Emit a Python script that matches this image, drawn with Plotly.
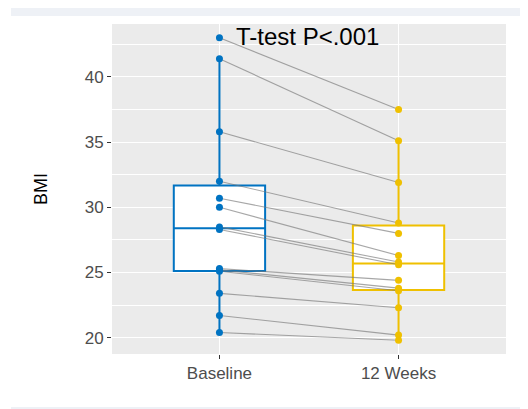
import numpy as np
import plotly.graph_objects as go

categories = ["Baseline", "12 Weeks"]
baseline = [43.0, 41.4, 35.8, 32.0, 30.7, 30.0, 28.5, 28.3, 25.3, 25.2, 25.1, 23.4, 21.7, 20.4]
week12 = [37.5, 35.1, 31.9, 28.8, 28.0, 26.3, 25.8, 25.6, 24.4, 23.8, 23.6, 22.3, 20.2, 19.8]
colors = ["#0073C2", "#EFC000"]
y_ticks = [20, 25, 30, 35, 40]
annotation_text = "T-test P<.001"

fig = go.Figure()

# paired lines
for b, w in zip(baseline, week12):
    fig.add_trace(go.Scatter(x=[0, 1], y=[b, w], mode="lines",
                             line=dict(color="rgba(120,120,120,0.65)", width=1.1),
                             showlegend=False, hoverinfo="skip"))

def box_stats(vals):
    v = np.array(vals)
    q1, med, q3 = np.percentile(v, [25, 50, 75])
    iqr = q3 - q1
    lo = v[v >= q1 - 1.5 * iqr].min()
    hi = v[v <= q3 + 1.5 * iqr].max()
    return q1, med, q3, lo, hi

for i, (vals, c) in enumerate(zip([baseline, week12], colors)):
    q1, med, q3, lo, hi = box_stats(vals)
    fig.add_trace(go.Box(x=[i], q1=[q1], median=[med], q3=[q3],
                         lowerfence=[lo], upperfence=[hi],
                         width=0.51, whiskerwidth=0,
                         fillcolor="white", line=dict(color=c, width=2),
                         boxpoints=False, showlegend=False))
    fig.add_trace(go.Scatter(x=[i] * len(vals), y=vals, mode="markers",
                             marker=dict(color=c, size=7),
                             showlegend=False))

fig.add_annotation(x=0, y=max(baseline), xref="x", yref="y",
                   text=annotation_text, showarrow=False,
                   xanchor="left", yanchor="middle", xshift=15, yshift=1,
                   font=dict(family="Liberation Sans, Arial, sans-serif", size=24, color="black"))

# decorative page bands
L, T, W, H = 104, 16, 394, 330
fig.add_shape(type="rect", xref="paper", yref="paper",
              x0=(3 - L) / W, x1=(528 - L) / W, y0=1 + (T - 8) / H, y1=1 + (T - 0) / H,
              fillcolor="#EEF1F6", line=dict(width=0), layer="below")
fig.add_shape(type="line", xref="paper", yref="paper",
              x0=(3 - L) / W, x1=(528 - L) / W, y0=-(400 - T - H) / H, y1=-(400 - T - H) / H,
              line=dict(color="#EEF1F6", width=2))

fig.update_layout(
    width=528, height=409,
    margin=dict(l=L, r=528 - L - W, t=T, b=409 - T - H),
    paper_bgcolor="white", plot_bgcolor="#EBEBEB",
    font=dict(family="Liberation Sans, Arial, sans-serif"),
)
fig.update_xaxes(range=[-0.6, 1.6], tickvals=[0, 1], ticktext=categories,
                 showgrid=True, gridcolor="white", gridwidth=1.2,
                 ticks="outside", ticklen=4, tickcolor="#333333",
                 tickfont=dict(size=17, color="#4D4D4D"), zeroline=False,
                 showline=False)
fig.update_yaxes(range=[18.75, 44.06], tickvals=y_ticks,
                 ticks="outside", ticklen=4, tickcolor="#333333",
                 tickfont=dict(size=17, color="#4D4D4D"),
                 showgrid=True, gridcolor="white", gridwidth=1.2,
                 minor=dict(tickvals=[22.5, 27.5, 32.5, 37.5, 42.5], showgrid=True,
                            gridcolor="white", gridwidth=0.6, ticks=""),
                 zeroline=False,
                 title=dict(text="BMI", font=dict(size=18, color="black"), standoff=32))

fig.write_html("out.html")
